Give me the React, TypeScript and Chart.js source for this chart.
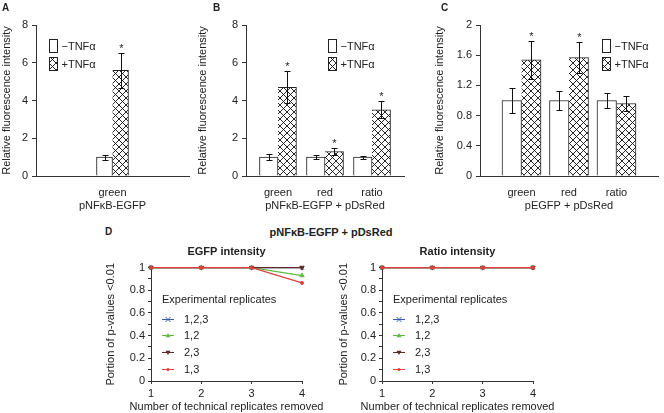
import React, { useEffect, useRef } from 'react';
import { Chart, registerables } from 'chart.js';

Chart.register(...registerables);

const FONT = "'Liberation Sans', Arial, Helvetica, sans-serif";
const TEXT = '#222';
const AXIS = '#333';
const BAR_EDGE = '#222';

// ---------- Panel A ----------
const catsA = ['green'];
const minusA = [1.0];
const minusErrA = [0.13];
const plusA = [5.6];
const plusErrA = [0.93];
const sigA = [true];

// ---------- Panel B ----------
const catsB = ['green', 'red', 'ratio'];
const minusB = [1.0, 1.0, 1.0];
const minusErrB = [0.15, 0.11, 0.08];
const plusB = [4.7, 1.3, 3.5];
const plusErrB = [0.85, 0.2, 0.45];
const sigB = [true, true, true];

// ---------- Panel C ----------
const catsC = ['green', 'red', 'ratio'];
const minusC = [1.0, 1.0, 1.0];
const minusErrC = [0.16, 0.13, 0.1];
const plusC = [1.54, 1.57, 0.96];
const plusErrC = [0.25, 0.2, 0.1];
const sigC = [true, true, false];

const ticksAB = [0, 2, 4, 6, 8];
const ticksC = [0, 0.4, 0.8, 1.2, 1.6, 2];

// ---------- Panel D ----------
const removedLabels = ['1', '2', '3', '4'];
const replicateNames = ['1,2,3', '1,2', '2,3', '1,3'];
const egfp123 = [1, 1, 1, 1];
const egfp12 = [1, 1, 1, 0.93];
const egfp23 = [1, 1, 1, 1];
const egfp13 = [1, 1, 1, 0.865];
const ratio123 = [1, 1, 1, 1];
const ratio12 = [1, 1, 1, 1];
const ratio23 = [1, 1, 1, 1];
const ratio13 = [1, 1, 1, 1];
const majorTicksD = [0, 0.2, 0.4, 0.6, 0.8, 1];
const minorTicksD = [0.1, 0.3, 0.5, 0.7, 0.9];

const seriesStyles = [
  { color: '#3d5ba9', pointStyle: 'crossRot', rotation: 0, radius: 2.5, order: 4 },
  { color: '#5fbb45', pointStyle: 'triangle', rotation: 0, radius: 2.5, order: 3 },
  { color: '#5e2b2b', pointStyle: 'triangle', rotation: 180, radius: 2.5, order: 2 },
  { color: '#e2403f', pointStyle: 'circle', rotation: 0, radius: 1.5, order: 1 },
];

function makeHatch(ctx: CanvasRenderingContext2D) {
  const s = 7;
  const c = document.createElement('canvas');
  c.width = s;
  c.height = s;
  const g = c.getContext('2d')!;
  g.fillStyle = '#fff';
  g.fillRect(0, 0, s, s);
  g.strokeStyle = '#111';
  g.lineWidth = 0.9;
  g.beginPath();
  for (let k = -1; k <= 1; k++) {
    g.moveTo(k * s, 0);
    g.lineTo(k * s + s, s);
    g.moveTo(k * s, s);
    g.lineTo(k * s + s, 0);
  }
  g.stroke();
  return ctx.createPattern(c, 'repeat')!;
}

const font11 = { size: 11, family: FONT };

const errorBarPlugin = {
  id: 'errorBars',
  afterDatasetsDraw(chart: any) {
    const { ctx } = chart;
    const yScale = chart.scales.y;
    chart.data.datasets.forEach((ds: any, di: number) => {
      if (!ds.errors) return;
      const meta = chart.getDatasetMeta(di);
      meta.data.forEach((el: any, i: number) => {
        const v = ds.data[i].y;
        const e = ds.errors[i];
        const top = Math.round(yScale.getPixelForValue(v + e)) + 0.5;
        const bot = Math.round(yScale.getPixelForValue(v - e)) + 0.5;
        const x = Math.round(el.x) + 0.5;
        ctx.save();
        ctx.strokeStyle = '#111';
        ctx.lineWidth = 1;
        ctx.beginPath();
        ctx.moveTo(x, top);
        ctx.lineTo(x, bot);
        ctx.moveTo(x - 3, top);
        ctx.lineTo(x + 3, top);
        ctx.moveTo(x - 3, bot);
        ctx.lineTo(x + 3, bot);
        ctx.stroke();
        if (ds.sig && ds.sig[i]) {
          ctx.fillStyle = TEXT;
          ctx.font = `11px ${FONT}`;
          ctx.textAlign = 'center';
          ctx.textBaseline = 'alphabetic';
          ctx.fillText('*', x, top - 2);
        }
        ctx.restore();
      });
    });
  },
};

function tnfLegend(hatch: CanvasPattern, dx: number, dy: number) {
  return {
    id: 'tnfLegend',
    afterDraw(chart: any) {
      const { ctx, chartArea } = chart;
      const x = Math.round(chartArea.left + dx) + 0.5;
      const y = Math.round(chartArea.top + dy) + 0.5;
      ctx.save();
      ctx.strokeStyle = BAR_EDGE;
      ctx.lineWidth = 1;
      chart.data.datasets.forEach((ds: any, i: number) => {
        const by = y + i * 18;
        ctx.fillStyle = i === 0 ? '#fff' : hatch;
        ctx.fillRect(x, by, 8, 13);
        ctx.strokeRect(x, by, 8, 13);
        ctx.fillStyle = TEXT;
        ctx.font = `11px ${FONT}`;
        ctx.textAlign = 'left';
        ctx.textBaseline = 'middle';
        ctx.fillText(ds.label, x + 12, by + 7);
      });
      ctx.restore();
    },
  };
}

function barConfig(ctx: CanvasRenderingContext2D, p: any) {
  const hatch = makeHatch(ctx);
  const pts = (arr: number[]) => arr.map((v, i) => ({ x: i, y: v }));
  return {
    type: 'bar',
    data: {
      datasets: [
        {
          label: '\u2212TNF\u03b1',
          data: pts(p.minus),
          errors: p.minusErr,
          backgroundColor: '#fff',
          borderColor: BAR_EDGE,
          borderWidth: { top: 1, left: 1, right: 1, bottom: 0 },
          borderSkipped: false,
          barThickness: p.barPx,
        },
        {
          label: '+TNF\u03b1',
          data: pts(p.plus),
          errors: p.plusErr,
          sig: p.sig,
          backgroundColor: hatch,
          borderColor: BAR_EDGE,
          borderWidth: { top: 1, left: 0, right: 1, bottom: 0 },
          borderSkipped: false,
          barThickness: p.barPx,
        },
      ],
    },
    options: {
      animation: false,
      responsive: false,
      events: [],
      layout: { padding: { left: 0, top: p.padTop, right: p.padRight, bottom: 0 } },
      plugins: { legend: { display: false }, tooltip: { enabled: false } },
      scales: {
        x: {
          type: 'linear',
          min: p.xMin,
          max: p.xMax,
          offset: false,
          grid: { display: false, drawTicks: false },
          border: { display: true, color: AXIS, width: 1 },
          afterBuildTicks: (s: any) => {
            s.ticks = p.cats.map((_: string, i: number) => ({ value: i }));
          },
          ticks: {
            autoSkip: false,
            maxRotation: 0,
            padding: 10,
            color: TEXT,
            font: font11,
            callback: (v: number) => p.cats[Math.round(v)] ?? '',
          },
          title: { display: true, text: p.xTitle, color: TEXT, font: font11, padding: { top: 0, bottom: 2 } },
          afterFit: (s: any) => {
            s.height = p.xHeight;
          },
        },
        y: {
          min: 0,
          max: p.yTicks[p.yTicks.length - 1],
          afterBuildTicks: (s: any) => {
            s.ticks = p.yTicks.map((v: number) => ({ value: v }));
          },
          ticks: {
            autoSkip: false,
            padding: 4,
            color: TEXT,
            font: font11,
            callback: (v: number) => String(Math.round(v * 10) / 10),
          },
          grid: { drawOnChartArea: false, tickLength: 4, color: AXIS },
          border: { color: AXIS, width: 1 },
          title: {
            display: true,
            text: 'Relative fluorescence intensity',
            color: TEXT,
            font: font11,
            padding: { top: p.yTitlePad, bottom: 0 },
          },
          afterFit: (s: any) => {
            s.width = p.yWidth;
          },
        },
      },
    },
    plugins: [errorBarPlugin, tnfLegend(hatch, p.legendDx, p.legendDy)],
  };
}

function drawMarker(ctx: CanvasRenderingContext2D, st: any, x: number, y: number) {
  const r = st.radius;
  ctx.save();
  ctx.strokeStyle = st.color;
  ctx.fillStyle = st.color;
  ctx.lineWidth = 1;
  ctx.beginPath();
  if (st.pointStyle === 'crossRot') {
    ctx.moveTo(x - r, y - r);
    ctx.lineTo(x + r, y + r);
    ctx.moveTo(x - r, y + r);
    ctx.lineTo(x + r, y - r);
    ctx.stroke();
  } else if (st.pointStyle === 'triangle') {
    const d = st.rotation === 180 ? -1 : 1;
    ctx.moveTo(x, y - d * r);
    ctx.lineTo(x - r, y + d * r * 0.7);
    ctx.lineTo(x + r, y + d * r * 0.7);
    ctx.closePath();
    ctx.fill();
  } else {
    ctx.arc(x, y, r, 0, Math.PI * 2);
    ctx.fill();
  }
  ctx.restore();
}

const replicateLegend = {
  id: 'replicateLegend',
  afterDraw(chart: any) {
    const { ctx, chartArea } = chart;
    const x0 = chartArea.left + 11;
    const top = chartArea.top;
    ctx.save();
    ctx.font = `11px ${FONT}`;
    ctx.fillStyle = TEXT;
    ctx.textAlign = 'left';
    ctx.textBaseline = 'middle';
    ctx.fillText('Experimental replicates', x0, top + 32);
    chart.data.datasets.forEach((ds: any, i: number) => {
      const st = seriesStyles[i];
      const y = Math.round(top + 51 + i * 16.7) + 0.5;
      ctx.strokeStyle = st.color;
      ctx.lineWidth = 1;
      ctx.beginPath();
      ctx.moveTo(x0, y);
      ctx.lineTo(x0 + 12, y);
      ctx.stroke();
      drawMarker(ctx, st, x0 + 6, y);
      ctx.fillStyle = TEXT;
      ctx.fillText(ds.label, x0 + 22, y);
    });
    // x-axis title drawn without width compression
    ctx.textAlign = 'center';
    ctx.textBaseline = 'middle';
    ctx.fillText('Number of technical replicates removed', (chartArea.left + chartArea.right) / 2, chart.height - 6);
    ctx.restore();
  },
};

function lineConfig(p: any) {
  const allTicks = [...majorTicksD, ...minorTicksD].sort((a, b) => a - b);
  return {
    type: 'line',
    data: {
      labels: removedLabels,
      datasets: p.series.map((vals: number[], i: number) => {
        const st = seriesStyles[i];
        return {
          label: replicateNames[i],
          data: vals,
          borderColor: st.color,
          backgroundColor: st.color,
          borderWidth: 1.2,
          pointStyle: st.pointStyle,
          pointRotation: st.rotation,
          pointRadius: st.radius,
          pointBorderWidth: 1,
          order: st.order,
          clip: false,
          tension: 0,
          fill: false,
        };
      }),
    },
    options: {
      animation: false,
      responsive: false,
      events: [],
      layout: { padding: { left: 0, top: 0, right: p.padRight, bottom: 0 } },
      plugins: {
        legend: { display: false },
        tooltip: { enabled: false },
        title: {
          display: true,
          text: p.title,
          fullSize: false,
          color: TEXT,
          font: { size: 11, weight: 'bold', family: FONT },
          padding: { top: 5, bottom: 9.4 },
        },
      },
      scales: {
        x: {
          type: 'category',
          offset: false,
          grid: { drawOnChartArea: false, tickLength: 3, color: AXIS },
          border: { color: AXIS, width: 1 },
          ticks: { color: TEXT, font: font11, padding: 3, maxRotation: 0 },
          afterFit: (s: any) => {
            s.height = 32;
          },
        },
        y: {
          min: 0,
          max: 1,
          afterBuildTicks: (s: any) => {
            s.ticks = allTicks.map((v) => ({ value: v }));
          },
          ticks: {
            autoSkip: false,
            padding: 3,
            color: TEXT,
            font: font11,
            callback: (v: number) => {
              const k = Math.round(v * 10);
              return majorTicksD.some((m) => Math.round(m * 10) === k) ? String(k / 10) : '';
            },
          },
          grid: { drawOnChartArea: false, tickLength: 3, color: AXIS },
          border: { color: AXIS, width: 1 },
          title: {
            display: true,
            text: 'Portion of p-values <0.01',
            color: TEXT,
            font: font11,
            padding: { top: p.yTitlePad, bottom: 0 },
          },
          afterFit: (s: any) => {
            s.width = p.yWidth;
          },
        },
      },
    },
    plugins: [replicateLegend],
  };
}

function ChartBox(props: { left: number; top: number; width: number; height: number; make: (ctx: CanvasRenderingContext2D) => any }) {
  const ref = useRef<HTMLCanvasElement>(null);
  useEffect(() => {
    const canvas = ref.current!;
    const ctx = canvas.getContext('2d')!;
    const chart = new Chart(canvas, props.make(ctx));
    return () => chart.destroy();
  }, []);
  return (
    <canvas
      ref={ref}
      width={props.width}
      height={props.height}
      style={{ position: 'absolute', left: props.left, top: props.top, width: props.width, height: props.height }}
    />
  );
}

function Label(props: { x: number; y: number; text: string; size: number; center?: boolean }) {
  return (
    <div
      style={{
        position: 'absolute',
        left: props.x,
        top: props.y,
        transform: props.center ? 'translate(-50%, -50%)' : 'translateY(-50%)',
        font: `bold ${props.size}px ${FONT}`,
        color: TEXT,
        whiteSpace: 'nowrap',
        lineHeight: 1,
      }}
    >
      {props.text}
    </div>
  );
}

export default function App() {
  return (
    <div style={{ position: 'absolute', left: 0, top: 0, width: 664, height: 413, background: '#fff', overflow: 'hidden' }}>
      <ChartBox
        left={0}
        top={0}
        width={196}
        height={215}
        make={(ctx) =>
          barConfig(ctx, {
            cats: catsA, minus: minusA, minusErr: minusErrA, plus: plusA, plusErr: plusErrA, sig: sigA,
            yTicks: ticksAB, xTitle: 'pNF\u03baB-EGFP',
            xMin: -1, xMax: 1, barPx: 16, padTop: 25, padRight: 7, yWidth: 36, xHeight: 39, yTitlePad: 0,
            legendDx: 13, legendDy: 14,
          })
        }
      />
      <ChartBox
        left={196}
        top={0}
        width={214}
        height={215}
        make={(ctx) =>
          barConfig(ctx, {
            cats: catsB, minus: minusB, minusErr: minusErrB, plus: plusB, plusErr: plusErrB, sig: sigB,
            yTicks: ticksAB, xTitle: 'pNF\u03baB-EGFP + pDsRed',
            xMin: -0.68, xMax: 2.68, barPx: 18.5, padTop: 25, padRight: 6, yWidth: 50, xHeight: 39, yTitlePad: 0,
            legendDx: 82, legendDy: 14,
          })
        }
      />
      <ChartBox
        left={433}
        top={0}
        width={231}
        height={215}
        make={(ctx) =>
          barConfig(ctx, {
            cats: catsC, minus: minusC, minusErr: minusErrC, plus: plusC, plusErr: plusErrC, sig: sigC,
            yTicks: ticksC, xTitle: 'pEGFP + pDsRed',
            xMin: -0.874, xMax: 2.874, barPx: 19.5, padTop: 25, padRight: 6, yWidth: 47, xHeight: 39, yTitlePad: 0,
            legendDx: 122, legendDy: 14,
          })
        }
      />
      <ChartBox
        left={100}
        top={240}
        width={225}
        height={173}
        make={() =>
          lineConfig({
            title: 'EGFP intensity',
            series: [egfp123, egfp12, egfp23, egfp13],
            padRight: 23, yWidth: 51, yTitlePad: 4,
          })
        }
      />
      <ChartBox
        left={330}
        top={240}
        width={225}
        height={173}
        make={() =>
          lineConfig({
            title: 'Ratio intensity',
            series: [ratio123, ratio12, ratio23, ratio13],
            padRight: 22, yWidth: 52, yTitlePad: 7,
          })
        }
      />
      <Label x={2} y={8} text="A" size={10} />
      <Label x={213} y={8} text="B" size={10} />
      <Label x={441} y={8} text="C" size={10} />
      <Label x={105} y={232} text="D" size={10} />
      <Label x={331} y={232} text={'pNF\u03baB-EGFP + pDsRed'} size={11} center />
    </div>
  );
}
